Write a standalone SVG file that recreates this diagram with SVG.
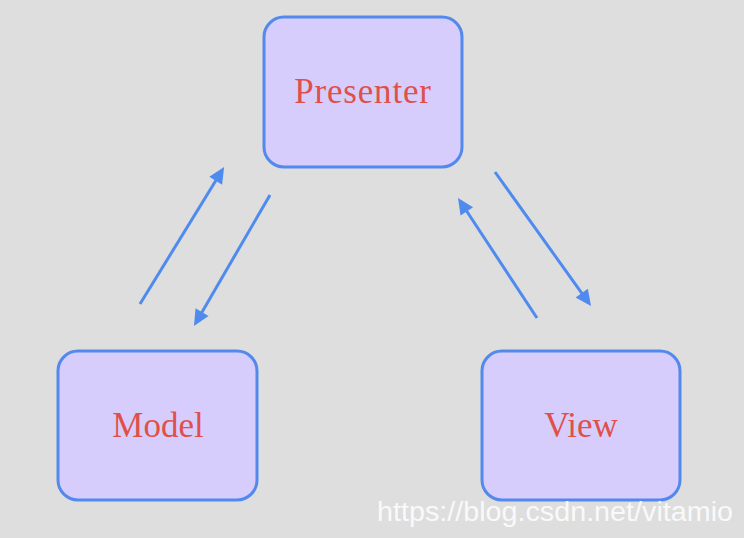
<svg xmlns="http://www.w3.org/2000/svg" width="744" height="538" viewBox="0 0 744 538">
<style>
.box{fill:#d7cdfc;stroke:#5389ec;stroke-width:3}
.lbl{font-family:"Liberation Serif",serif;font-size:35px;fill:#e0504a;text-anchor:middle}
.conn{stroke:#4f8bef;stroke-width:3;fill:none;marker-end:url(#ah)}
.wm{font-family:"Liberation Sans",Arial,sans-serif;font-size:27px;fill:#ffffff;fill-opacity:0.85}
</style>
<defs>
<marker id="ah" markerUnits="userSpaceOnUse" markerWidth="30" markerHeight="30" refX="0" refY="0" orient="auto" style="overflow:visible">
<path d="M-12,-7.5 L4,0 L-12,7.5 z" fill="#4f8bef"/>
</marker>
</defs>
<rect width="744" height="538" fill="#dedede"/>
<g id="presenter"><rect class="box" x="264" y="17" width="198" height="150" rx="20"/><text class="lbl" x="363" y="103" letter-spacing="0.8">Presenter</text></g>
<g id="model"><rect class="box" x="58" y="351" width="199" height="149" rx="20"/><text class="lbl" x="158" y="437">Model</text></g>
<g id="view"><rect class="box" x="482" y="351" width="198" height="149" rx="20"/><text class="lbl" x="581" y="437">View</text></g>
<g id="connectors">
<line class="conn" x1="140" y1="304" x2="222" y2="170.5"/>
<line class="conn" x1="270" y1="195" x2="196" y2="322.5"/>
<line class="conn" x1="537" y1="318" x2="460.2" y2="201.3"/>
<line class="conn" x1="495" y1="172" x2="588.7" y2="302.8"/>
</g>
<text class="wm" x="377" y="521" textLength="356" lengthAdjust="spacingAndGlyphs">https://blog.csdn.net/vitamio</text>
</svg>
